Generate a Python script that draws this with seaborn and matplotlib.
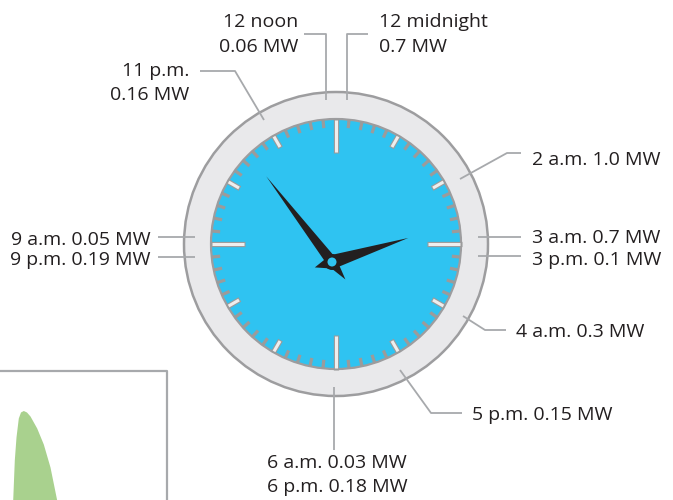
import numpy as np
import matplotlib
matplotlib.use("Agg")
import matplotlib.pyplot as plt
from matplotlib.patches import Circle, Polygon
import seaborn as sns

# labels around the clock: time and power reading
times = ["12 noon", "12 midnight", "11 p.m.", "2 a.m.", "3 a.m.", "3 p.m.",
         "4 a.m.", "5 p.m.", "6 a.m.", "6 p.m.", "9 a.m.", "9 p.m."]
power_mw = [0.06, 0.7, 0.16, 1.0, 0.7, 0.1, 0.3, 0.15, 0.03, 0.18, 0.05, 0.19]

# hands (clock angle in degrees from 12, clockwise)
hour_hand_angle = 72.5
minute_hand_angle = -37.5

# green shape peeking in from the next panel (pixel outline)
green_x = [12.7, 14.3, 16.0, 18.3, 20.5, 23.3, 26.5, 30.0, 36.7, 43.3, 50.0, 56.7]
green_y = [500, 460, 437, 418, 412, 410.5, 412, 416, 428, 444, 467, 500]

W, H = 673, 500
sns.set_style("white")
plt.rcParams["font.family"] = ["Open Sans", "DejaVu Sans"]

GRAY = "#a7a9ac"
RING = "#e9e9eb"
BLUE = "#2fc3f1"
INK = "#231f20"

fig = plt.figure(figsize=(W / 100, H / 100), dpi=100)
ax = fig.add_axes([0, 0, 1, 1])
ax.set_xlim(0, W)
ax.set_ylim(H, 0)
ax.set_aspect("equal")
ax.axis("off")

cx, cy = 336, 244
R_out, R_in = 152, 125


def pt(angle, r, ox=cx, oy=cy):
    a = np.deg2rad(angle)
    return ox + r * np.sin(a), oy - r * np.cos(a)


# inset panel frame and green area
ax.plot([0, 167, 167], [371, 371, 500], color=GRAY, lw=1.6, solid_capstyle="butt")
ax.fill_between(green_x, green_y, 500, color="#a9d18e", lw=0)

# clock body
ax.add_patch(Circle((cx, cy), R_out, facecolor=RING, edgecolor="#9d9d9f", lw=1.8, zorder=2))
ax.add_patch(Circle((cx, cy), R_in, facecolor=BLUE, edgecolor="#9d9d9f", lw=1.6, zorder=3))

for m in range(60):
    ang = m * 6
    if m % 15 == 0:
        r2 = 91
    elif m % 5 == 0:
        r2 = 111
    else:
        x1, y1 = pt(ang, R_in)
        x2, y2 = pt(ang, 116.5)
        ax.plot([x1, x2], [y1, y2], color="#9b9b9b", lw=2.3, solid_capstyle="butt", zorder=4)
        continue
    x1, y1 = pt(ang, R_in + 0.5)
    x2, y2 = pt(ang, r2)
    ax.plot([x1, x2], [y1, y2], color="#9b9b9b", lw=3.8, solid_capstyle="butt", zorder=4)
    x1, y1 = pt(ang, R_in - 1)
    x2, y2 = pt(ang, r2 + 1)
    ax.plot([x1, x2], [y1, y2], color="#eeeeee", lw=2.2, solid_capstyle="butt", zorder=5)

# hands
hx, hy = 332, 262


def hand(angle, length, half_w, tail):
    tip = pt(angle, length, hx, hy)
    back = pt(angle + 180, tail, hx, hy)
    s1 = pt(angle + 90, half_w, hx, hy)
    s2 = pt(angle - 90, half_w, hx, hy)
    ax.add_patch(Polygon([tip, s1, back, s2], closed=True, facecolor=INK, lw=0, zorder=6))


hand(minute_hand_angle, 108, 5.5, 22)
hand(hour_hand_angle, 80, 7, 18)
ax.add_patch(Circle((hx, hy), 8, facecolor=INK, lw=0, zorder=7))
ax.add_patch(Circle((hx, hy), 4.5, facecolor=BLUE, lw=0, zorder=8))

# leader lines and labels
labels = [f"{t} {p} MW" for t, p in zip(times, power_mw)]
leaders = [
    [(326, 100), (326, 34), (304, 34)],
    [(347, 100), (347, 34), (368, 34)],
    [(264, 120), (235, 71), (200, 71)],
    [(460, 179), (507, 153), (521, 153)],
    [(478, 237), (521, 237)],
    [(478, 256), (521, 256)],
    [(463, 316), (485, 330), (506, 330)],
    [(400, 370), (431, 413), (462, 413)],
    [(334, 387), (334, 450)],
    [(195, 237), (158, 237)],
    [(195, 257), (158, 257)],
]
for path in leaders:
    xs, ys = zip(*path)
    ax.plot(xs, ys, color=GRAY, lw=1.3, solid_capstyle="butt", zorder=9)

fs = 14
tk = dict(color=INK, fontsize=fs, va="baseline")
ax.text(298, 27, times[0], ha="right", **tk)
ax.text(298, 52, f"{power_mw[0]} MW", ha="right", **tk)
ax.text(379, 27, times[1], ha="left", **tk)
ax.text(379, 52, f"{power_mw[1]} MW", ha="left", **tk)
ax.text(189, 76, times[2], ha="right", **tk)
ax.text(189, 100, f"{power_mw[2]} MW", ha="right", **tk)
ax.text(532, 165, labels[3], ha="left", **tk)
ax.text(532, 243, labels[4], ha="left", **tk)
ax.text(532, 265, labels[5], ha="left", **tk)
ax.text(516, 337, labels[6], ha="left", **tk)
ax.text(472, 420, labels[7], ha="left", **tk)
ax.text(337, 468, labels[8], ha="center", **tk)
ax.text(337, 492, labels[9], ha="center", **tk)
ax.text(151, 245, labels[10], ha="right", **tk)
ax.text(151, 265, labels[11], ha="right", **tk)

fig.savefig("out.png", dpi=100)
